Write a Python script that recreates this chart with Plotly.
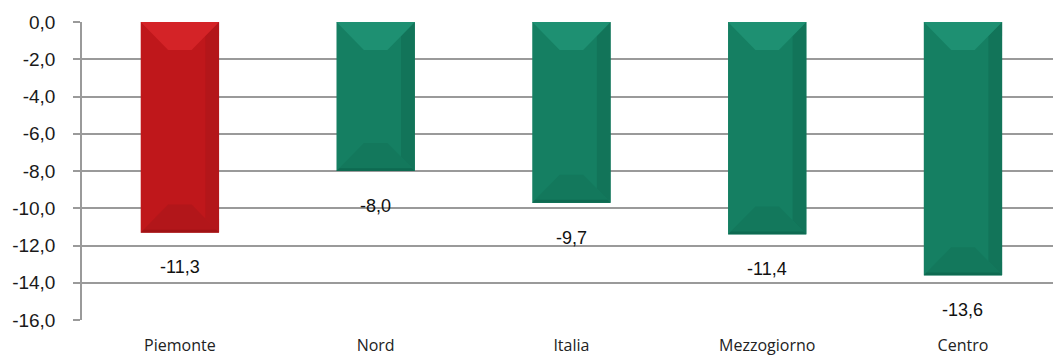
import plotly.graph_objects as go

# Variazione percentuale per area territoriale
categories = ["Piemonte", "Nord", "Italia", "Mezzogiorno", "Centro"]
values = [-11.3, -8.0, -9.7, -11.4, -13.6]
bar_colors = ["#BF171B", "#157F62", "#157F62", "#157F62", "#157F62"]
tick_values = [0, -2, -4, -6, -8, -10, -12, -14, -16]
tick_labels = ["0,0", "-2,0", "-4,0", "-6,0", "-8,0", "-10,0", "-12,0", "-14,0", "-16,0"]

BAR_W = 0.4
BEVEL_X = 0.14   # bevel depth in category units
BEVEL_Y = 1.5    # bevel depth in value units
SIDE_X = 0.07    # width of the shaded right-hand strip

top_tone = {"#BF171B": "#D42327", "#157F62": "#1E9072"}
bot_tone = {"#BF171B": "#B2161A", "#157F62": "#13785C"}
edge_tone = {"#BF171B": "#A01215", "#157F62": "#0E6A51"}
right_tone = {"#BF171B": "#B3161A", "#157F62": "#127459"}


def fmt(v):
    return f"{v:.1f}".replace(".", ",")


fig = go.Figure()
fig.add_trace(go.Bar(
    x=list(range(len(categories))), y=values, width=BAR_W,
    marker=dict(color=bar_colors, line=dict(width=0)),
    hoverinfo="skip",
))


def poly(pts, col):
    path = "M " + " L ".join(f"{px},{py}" for px, py in pts) + " Z"
    return dict(type="path", path=path, xref="x", yref="y",
                fillcolor=col, line=dict(width=0), layer="above")


shapes = []
for i, (v, c) in enumerate(zip(values, bar_colors)):
    x0, x1 = i - BAR_W / 2, i + BAR_W / 2
    top, bot = 0.0, v
    # right-hand shaded strip
    shapes.append(poly([(x1, top), (x1, bot), (x1 - SIDE_X, bot + BEVEL_Y * SIDE_X / BEVEL_X),
                        (x1 - SIDE_X, top - BEVEL_Y * SIDE_X / BEVEL_X)], right_tone[c]))
    # top bevel
    shapes.append(poly([(x0, top), (x1, top), (x1 - BEVEL_X, top - BEVEL_Y),
                        (x0 + BEVEL_X, top - BEVEL_Y)], top_tone[c]))
    # bottom bevel
    shapes.append(poly([(x0, bot), (x1, bot), (x1 - BEVEL_X, bot + BEVEL_Y),
                        (x0 + BEVEL_X, bot + BEVEL_Y)], bot_tone[c]))
    shapes.append(poly([(x0, bot), (x1, bot), (x1 - 0.015, bot + 0.15),
                        (x0 + 0.015, bot + 0.15)], edge_tone[c]))

annotations = [
    dict(x=i, y=v, xref="x", yref="y", text=fmt(v),
         showarrow=False, yanchor="middle", yshift=-35,
         font=dict(family="Liberation Sans, Arial", size=18, color="#111111"))
    for i, v in enumerate(values)
]

fig.update_layout(
    width=1053, height=355,
    margin=dict(l=82, r=0, t=22, b=35),
    paper_bgcolor="white", plot_bgcolor="white",
    showlegend=False,
    shapes=shapes,
    annotations=annotations,
    xaxis=dict(
        range=[-0.5, 4.46], tickmode="array",
        tickvals=list(range(len(categories))), ticktext=categories,
        showgrid=False, zeroline=False, showline=False, ticks="",
        ticklabelstandoff=14,
        tickfont=dict(family="Open Sans, sans-serif", size=16, color="#222222"),
    ),
    yaxis=dict(
        range=[-16, 0], tickmode="array", tickvals=tick_values, ticktext=tick_labels,
        showgrid=True, gridcolor="#9A9A9A", gridwidth=1.5,
        zeroline=False, showline=True, linecolor="#9A9A9A", linewidth=1.5,
        ticks="outside", ticklen=7, tickcolor="#9A9A9A", tickwidth=1.5,
        ticklabelstandoff=14,
        tickfont=dict(family="Liberation Sans, Arial", size=19, color="#1A1A1A"),
    ),
)

fig.write_html("out.html")
